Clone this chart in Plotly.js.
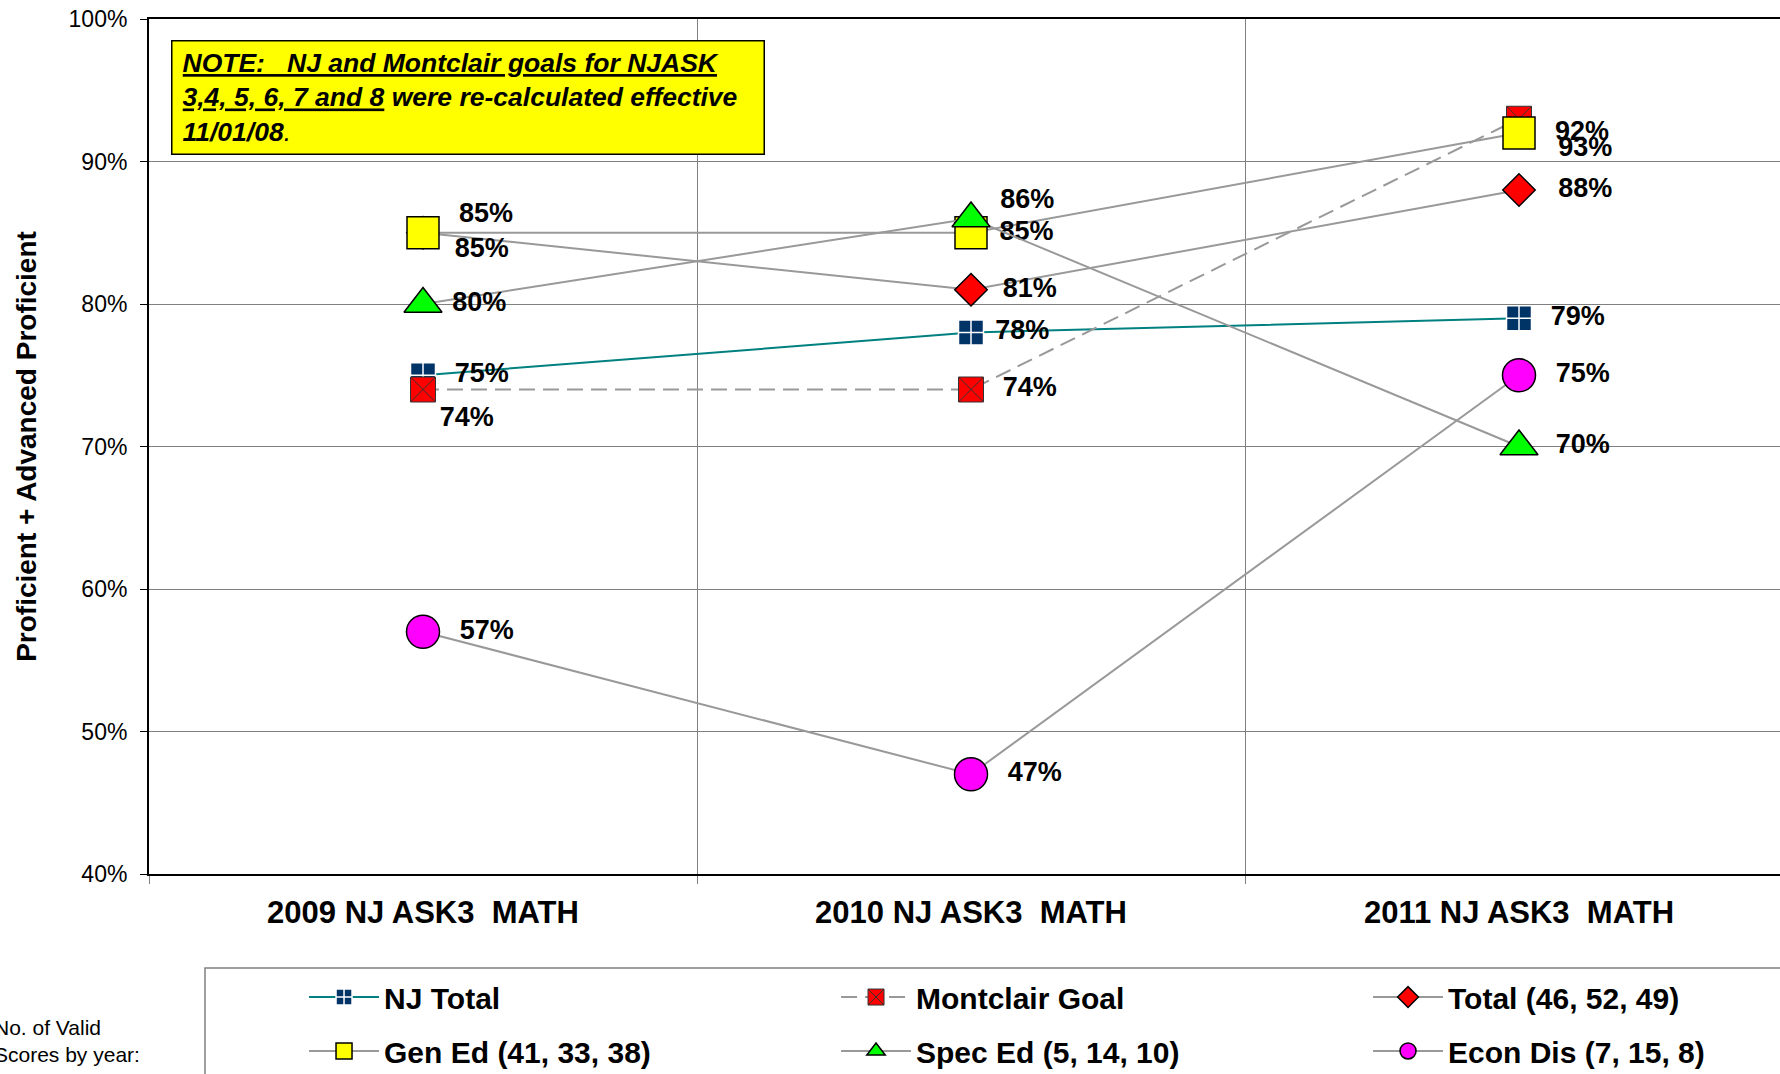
<!DOCTYPE html>
<html>
<head>
<meta charset="utf-8">
<script src="https://cdn.plot.ly/plotly-3.0.1.min.js"></script>
<style>
  html, body { margin: 0; padding: 0; overflow: hidden; background: #fff; }
  #chart { width: 1800px; height: 1074px; }
</style>
</head>
<body>
<div id="chart"></div>
<script>
// ---- data ----
const categories = ['2009 NJ ASK3\u00a0 MATH', '2010 NJ ASK3\u00a0 MATH', '2011 NJ ASK3\u00a0 MATH'];
const njTotal       = [75, 78, 79];
const montclairGoal = [74, 74, 93];
const totalScores   = [85, 81, 88];
const genEd         = [85, 85, 92];
const specEd        = [80, 86, 70];
const econDis       = [57, 47, 75];
const seriesNames = ['NJ Total', 'Montclair Goal', 'Total (46, 52, 49)', 'Gen Ed (41, 33, 38)', 'Spec Ed (5, 14, 10)', 'Econ Dis (7, 15, 8)'];
const yTicks = [40, 50, 60, 70, 80, 90, 100];

// ---- label placement (style only) ----
const FONT = 'Liberation Sans, Arial, sans-serif';
const pad = n => '\u00a0'.repeat(n);
const mid = n => pad(n) + '%{text}';
const above = n => pad(n) + '%{text}<br>\u00a0';
const lower = n => '\u00a0<br>' + pad(n) + '%{text}';
const below = n => pad(n) + '%{text}';
const labelFont = {family: FONT, size: 27, color: '#000', weight: 'bold'};

function series(name, y, legendId, opts) {
  return Object.assign({
    type: 'scatter',
    mode: 'lines+markers+text',
    name: name,
    x: categories,
    y: y,
    text: y.map(v => v + '%'),
    textfont: labelFont,
    cliponaxis: false,
    hoverinfo: 'skip',
    legend: legendId
  }, opts);
}

const traces = [
  series(seriesNames[0], njTotal, 'legend', {
    line: {color: '#008080', width: 2},
    marker: {symbol: 'square-cross', size: 25, color: '#003366', line: {color: '#ffffff', width: 1.5}},
    textposition: ['middle right', 'middle right', 'middle right'],
    texttemplate: [mid(2), mid(1), mid(2)]
  }),
  series(seriesNames[1], montclairGoal, 'legend2', {
    line: {color: '#999999', width: 2, dash: '16px,8px'},
    marker: {symbol: 'square-x', size: 25, color: '#ff0000', line: {color: '#333333', width: 1}},
    textposition: ['bottom right', 'middle right', 'bottom right'],
    texttemplate: [below(0), mid(2), below(3)]
  }),
  series(seriesNames[2], totalScores, 'legend3', {
    line: {color: '#999999', width: 2},
    marker: {symbol: 'diamond', size: 25, color: '#ff0000', line: {color: '#000000', width: 1.5}},
    textposition: ['middle right', 'middle right', 'middle right'],
    texttemplate: [lower(2), mid(2), mid(3)]
  }),
  series(seriesNames[3], genEd, 'legend4', {
    line: {color: '#999999', width: 2},
    marker: {symbol: 'square', size: 32, color: '#ffff00', line: {color: '#000000', width: 1.5}},
    textposition: ['middle right', 'middle right', 'middle right'],
    texttemplate: [above(2), mid(1), mid(2)]
  }),
  series(seriesNames[4], specEd, 'legend5', {
    line: {color: '#999999', width: 2},
    marker: {symbol: 'triangle-up', size: 33, color: '#00ff00', line: {color: '#000000', width: 1.5}},
    textposition: ['middle right', 'middle right', 'middle right'],
    texttemplate: [mid(1), above(1), mid(2)]
  }),
  series(seriesNames[5], econDis, 'legend6', {
    line: {color: '#999999', width: 2},
    marker: {symbol: 'circle', size: 33, color: '#ff00ff', line: {color: '#000000', width: 1.5}},
    textposition: ['middle right', 'middle right', 'middle right'],
    texttemplate: [mid(2), mid(2), mid(2)]
  })
];

function legendAt(x, y) {
  return {
    orientation: 'v',
    itemwidth: 70,
    itemsizing: 'trace',
    font: {family: FONT, size: 30, color: '#000', weight: 'bold'},
    bgcolor: 'rgba(0,0,0,0)',
    borderwidth: 0,
    xanchor: 'left',
    yanchor: 'middle',
    x: x,
    y: y
  };
}
const colX = [0.0943, 0.4179, 0.7415];
const rowY = [-0.1439, -0.2070];

const layout = {
  width: 1800,
  height: 1074,
  margin: {l: 149, r: 7, t: 19, b: 200, autoexpand: false},
  paper_bgcolor: '#ffffff',
  plot_bgcolor: '#ffffff',
  font: {family: FONT, color: '#000'},
  showlegend: true,
  legend:  legendAt(colX[0], rowY[0]),
  legend2: legendAt(colX[1], rowY[0]),
  legend3: legendAt(colX[2], rowY[0]),
  legend4: legendAt(colX[0], rowY[1]),
  legend5: legendAt(colX[1], rowY[1]),
  legend6: legendAt(colX[2], rowY[1]),
  xaxis: {
    type: 'category',
    range: [-0.5, 2.5],
    tickson: 'boundaries',
    ticks: 'outside',
    ticklen: 8,
    tickcolor: '#808080',
    showgrid: true,
    gridcolor: '#808080',
    gridwidth: 1,
    showline: true,
    linecolor: '#000000',
    linewidth: 2,
    mirror: true,
    tickfont: {family: FONT, size: 31, color: '#000', weight: 'bold'},
    ticklabelstandoff: 10,
    automargin: false,
    fixedrange: true
  },
  yaxis: {
    range: [40, 100],
    tickvals: yTicks,
    ticktext: yTicks.map(v => v + '%'),
    ticks: 'outside',
    ticklen: 7,
    tickcolor: '#000000',
    showgrid: true,
    gridcolor: '#808080',
    gridwidth: 1,
    zeroline: false,
    showline: true,
    linecolor: '#000000',
    linewidth: 2,
    tickfont: {family: FONT, size: 23, color: '#000'},
    ticklabelstandoff: 8,
    automargin: false,
    title: {
      text: 'Proficient + Advanced Proficient',
      font: {family: FONT, size: 28, color: '#000', weight: 'bold'},
      standoff: 24
    },
    fixedrange: true
  },
  shapes: [
    {
      type: 'rect', xref: 'paper', yref: 'paper',
      x0: 0.03406, x1: 1.2, y0: -0.1099, y1: -0.4,
      line: {color: '#808080', width: 1.5},
      fillcolor: 'rgba(0,0,0,0)'
    }
  ],
  annotations: [
    {
      xref: 'paper', yref: 'paper',
      x: 0.0134, y: 0.9754, xanchor: 'left', yanchor: 'top',
      width: 571, height: 92, borderpad: 10,
      bgcolor: '#ffff00', bordercolor: '#000000', borderwidth: 1.5,
      align: 'left', valign: 'middle', showarrow: false,
      font: {family: FONT, size: 26.5, color: '#000'},
      text: '<i><b><u>NOTE:\u00a0\u00a0 NJ and Montclair goals for NJASK</u><br><u>3,4, 5, 6, 7 and 8</u> were re-calculated effective<br>11/01/08</b>.</i>'
    },
    {
      xref: 'paper', yref: 'paper',
      x: -0.0955, y: -0.1953, xanchor: 'left', yanchor: 'middle',
      align: 'left', showarrow: false,
      font: {family: FONT, size: 21, color: '#000'},
      text: 'No. of Valid<br>Scores by year:'
    }
  ]
};

Plotly.newPlot('chart', traces, layout, {staticPlot: true, displayModeBar: false});
</script>
</body>
</html>
